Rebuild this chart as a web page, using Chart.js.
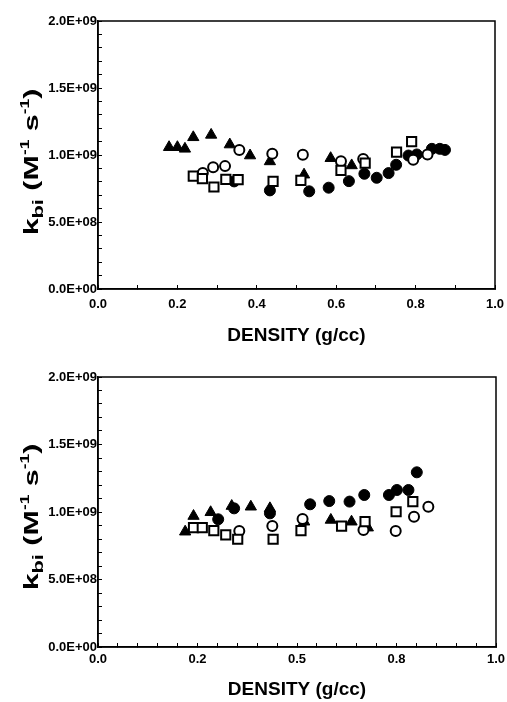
<!DOCTYPE html>
<html><head><meta charset="utf-8">
<script src="https://cdn.jsdelivr.net/npm/chart.js@4/dist/chart.umd.min.js"></script>
<style>
html,body{margin:0;padding:0;background:#fff;width:507px;height:702px;overflow:hidden}
.box{position:absolute;left:0;width:507px;height:351px}
</style></head><body>
<div class="box" style="top:0"><canvas id="c1" width="507" height="351"></canvas></div>
<div class="box" style="top:351px"><canvas id="c2" width="507" height="351"></canvas></div>
<script>
// ---------- DATA (x = density g/cc, y = k_bi in M^-1 s^-1) ----------
// Top panel
const topTriX = [0.179, 0.200, 0.219, 0.240, 0.285, 0.332, 0.383, 0.433, 0.519, 0.586, 0.639];
const topTriY = [1.058e9, 1.058e9, 1.046e9, 1.132e9, 1.150e9, 1.078e9, 0.996e9, 0.952e9, 0.853e9, 0.976e9, 0.922e9];
const topOpenCircX = [0.264, 0.290, 0.320, 0.356, 0.439, 0.516, 0.612, 0.668, 0.794, 0.830];
const topOpenCircY = [0.865e9, 0.909e9, 0.917e9, 1.038e9, 1.009e9, 1.001e9, 0.954e9, 0.971e9, 0.964e9, 1.004e9];
const topSquareX = [0.240, 0.263, 0.292, 0.322, 0.353, 0.441, 0.511, 0.612, 0.673, 0.752, 0.790];
const topSquareY = [0.843e9, 0.823e9, 0.761e9, 0.818e9, 0.816e9, 0.803e9, 0.810e9, 0.885e9, 0.939e9, 1.021e9, 1.100e9];
const topFilledX = [0.343, 0.433, 0.532, 0.581, 0.632, 0.671, 0.702, 0.732, 0.751, 0.782, 0.803, 0.841, 0.861, 0.874];
const topFilledY = [0.803e9, 0.736e9, 0.729e9, 0.756e9, 0.805e9, 0.860e9, 0.830e9, 0.865e9, 0.927e9, 0.996e9, 1.004e9, 1.046e9, 1.046e9, 1.038e9];
// Bottom panel
const botTriX = [0.219, 0.240, 0.283, 0.336, 0.384, 0.432, 0.518, 0.585, 0.637, 0.678];
const botTriY = [0.854e9, 0.970e9, 0.998e9, 1.044e9, 1.039e9, 1.027e9, 0.928e9, 0.941e9, 0.928e9, 0.884e9];
const botOpenCircX = [0.355, 0.438, 0.514, 0.667, 0.748, 0.794, 0.830];
const botOpenCircY = [0.859e9, 0.896e9, 0.948e9, 0.867e9, 0.859e9, 0.965e9, 1.039e9];
const botSquareX = [0.240, 0.262, 0.291, 0.321, 0.351, 0.440, 0.510, 0.612, 0.671, 0.749, 0.791];
const botSquareY = [0.884e9, 0.884e9, 0.862e9, 0.830e9, 0.798e9, 0.798e9, 0.862e9, 0.896e9, 0.928e9, 1.002e9, 1.077e9];
const botFilledX = [0.302, 0.342, 0.432, 0.533, 0.581, 0.632, 0.669, 0.731, 0.751, 0.780, 0.801];
const botFilledY = [0.946e9, 1.027e9, 0.990e9, 1.057e9, 1.081e9, 1.077e9, 1.126e9, 1.126e9, 1.163e9, 1.163e9, 1.294e9];

// Tick labels
const topXTickValues = [0, 0.2, 0.4, 0.6, 0.8, 1.0];
const topXTickLabels = ['0.0', '0.2', '0.4', '0.6', '0.8', '1.0'];
const botXTickValues = [0, 0.25, 0.5, 0.75, 1.0];
const botXTickLabels = ['0.0', '0.2', '0.5', '0.8', '1.0'];
const yTickValues = [0, 5e8, 1e9, 1.5e9, 2e9];
const yTickLabels = ['0.0E+00', '5.0E+08', '1.0E+09', '1.5E+09', '2.0E+09'];

const xTitle = 'DENSITY (g/cc)';
// y title pieces: [text, font size, baseline shift]
const yTitleParts = [['k', 21, 0], ['bi', 15, 5], [' (M', 21, 0], ['-1', 12, -9], [' s', 21, 0], ['-1', 12, -9], [')', 21, 0]];

// ---------- CHART SETUP ----------
const FAM = '"Liberation Sans", Arial, Helvetica, sans-serif';
Chart.defaults.font.family = FAM;
Chart.defaults.color = '#000';

function pts(xs, ys) { return xs.map((x, i) => ({x: x, y: ys[i]})); }

function yTicks(scale) {
  const arr = [];
  for (let i = 0; i <= 20; i++) arr.push({value: i * 1e8});
  scale.ticks = arr;
}
function xTicksStep(step) {
  return function (scale) {
    const n = Math.round(1 / step);
    const arr = [];
    for (let i = 0; i <= n; i++) arr.push({value: Math.round(i * step * 1000) / 1000});
    scale.ticks = arr;
  };
}
function labelFrom(values, labels, tol) {
  return function (v) {
    const i = values.findIndex(m => Math.abs(m - v) < tol);
    return i >= 0 ? labels[i] : '';
  };
}

const framePlugin = {
  id: 'frame',
  beforeDatasetsDraw(chart) {
    const a = chart.chartArea, ctx = chart.ctx;
    ctx.save();
    ctx.strokeStyle = '#000';
    ctx.lineWidth = 1.5;
    ctx.strokeRect(a.left, a.top, a.right - a.left, a.bottom - a.top);
    ctx.restore();
  }
};

function yTitlePlugin(cx, cyOffset) {
  return {
    id: 'ytitle',
    afterDraw(chart) {
      const a = chart.chartArea, ctx = chart.ctx;
      const cy = (a.top + a.bottom) / 2 + cyOffset;
      ctx.save();
      ctx.translate(cx, cy);
      ctx.rotate(-Math.PI / 2);
      ctx.scale(1.45, 1);
      ctx.fillStyle = '#000';
      ctx.textAlign = 'left';
      ctx.textBaseline = 'alphabetic';
      const widths = yTitleParts.map(p => { ctx.font = 'bold ' + p[1] + 'px ' + FAM; return ctx.measureText(p[0]).width; });
      const total = widths.reduce((s, w) => s + w, 0);
      let x = -total / 2;
      const base = 7.5;
      yTitleParts.forEach((p, i) => {
        ctx.font = 'bold ' + p[1] + 'px ' + FAM;
        ctx.fillText(p[0], x, base + p[2]);
        x += widths[i];
      });
      ctx.restore();
    }
  };
}

function makeChart(id, d) {
  const ds = [
    {label: 'open squares', data: pts(d.sqX, d.sqY), pointStyle: 'rect', pointRadius: 6.5, backgroundColor: '#fff', borderColor: '#000', borderWidth: 2, order: 0},
    {label: 'open circles', data: pts(d.ocX, d.ocY), pointStyle: 'circle', pointRadius: 5, backgroundColor: '#fff', borderColor: '#000', borderWidth: 2, order: 1},
    {label: 'filled triangles', data: pts(d.trX, d.trY), pointStyle: 'triangle', pointRadius: 6.5, backgroundColor: '#000', borderColor: '#000', borderWidth: 1, order: 2},
    {label: 'filled circles', data: pts(d.fcX, d.fcY), pointStyle: 'circle', pointRadius: 5.5, backgroundColor: '#000', borderColor: '#000', borderWidth: 1, order: 3}
  ];
  ds.forEach(s => { s.showLine = false; s.pointHoverRadius = s.pointRadius; });
  return new Chart(document.getElementById(id), {
    type: 'scatter',
    data: {datasets: ds},
    plugins: [framePlugin, yTitlePlugin(30, d.titleOffset)],
    options: {
      responsive: false, animation: false, devicePixelRatio: 1,
      layout: {padding: {top: d.padTop, right: d.padRight, left: 0, bottom: 0}},
      plugins: {legend: {display: false}, tooltip: {enabled: false}},
      scales: {
        x: {
          type: 'linear', position: 'bottom', min: 0, max: 1,
          afterBuildTicks: d.xTicks,
          afterFit(s) { s.height = d.xAxisH; s.paddingLeft = 0; s.paddingRight = 0; },
          border: {display: true, color: '#000', width: 1.5},
          grid: {drawOnChartArea: false, drawTicks: true, tickLength: -4, color: '#000', tickWidth: 1},
          ticks: {autoSkip: false, maxRotation: 0, minRotation: 0, padding: d.xTickPad, color: '#000',
                  font: {size: 13, weight: 'bold', family: FAM},
                  callback: labelFrom(d.xVals, d.xLabs, 1e-6)},
          title: {display: true, text: xTitle, color: '#000', font: {size: 19, weight: 'bold', family: FAM},
                  padding: {top: 0, bottom: d.titlePadB}}
        },
        y: {
          type: 'linear', position: 'left', min: 0, max: 2e9,
          afterBuildTicks: yTicks,
          afterFit(s) { s.width = 98; s.paddingTop = 0; s.paddingBottom = 0; },
          border: {display: true, color: '#000', width: 1.5},
          grid: {drawOnChartArea: false, drawTicks: true, tickLength: -4, color: '#000', tickWidth: 1},
          ticks: {autoSkip: false, padding: 5, color: '#000',
                  font: {size: 13, weight: 'bold', family: FAM},
                  callback: labelFrom(yTickValues, yTickLabels, 1)},
          title: {display: false}
        }
      }
    }
  });
}

makeChart('c1', {
  trX: topTriX, trY: topTriY, ocX: topOpenCircX, ocY: topOpenCircY,
  sqX: topSquareX, sqY: topSquareY, fcX: topFilledX, fcY: topFilledY,
  xVals: topXTickValues, xLabs: topXTickLabels, xTicks: xTicksStep(0.1),
  padTop: 21, padRight: 12, xAxisH: 62, xTickPad: 12, titlePadB: 3.6, titleOffset: 7
});
makeChart('c2', {
  trX: botTriX, trY: botTriY, ocX: botOpenCircX, ocY: botOpenCircY,
  sqX: botSquareX, sqY: botSquareY, fcX: botFilledX, fcY: botFilledY,
  xVals: botXTickValues, xLabs: botXTickLabels, xTicks: xTicksStep(0.05),
  padTop: 26, padRight: 11, xAxisH: 55, xTickPad: 9, titlePadB: 0.6, titleOffset: 5
});
</script>
</body></html>
